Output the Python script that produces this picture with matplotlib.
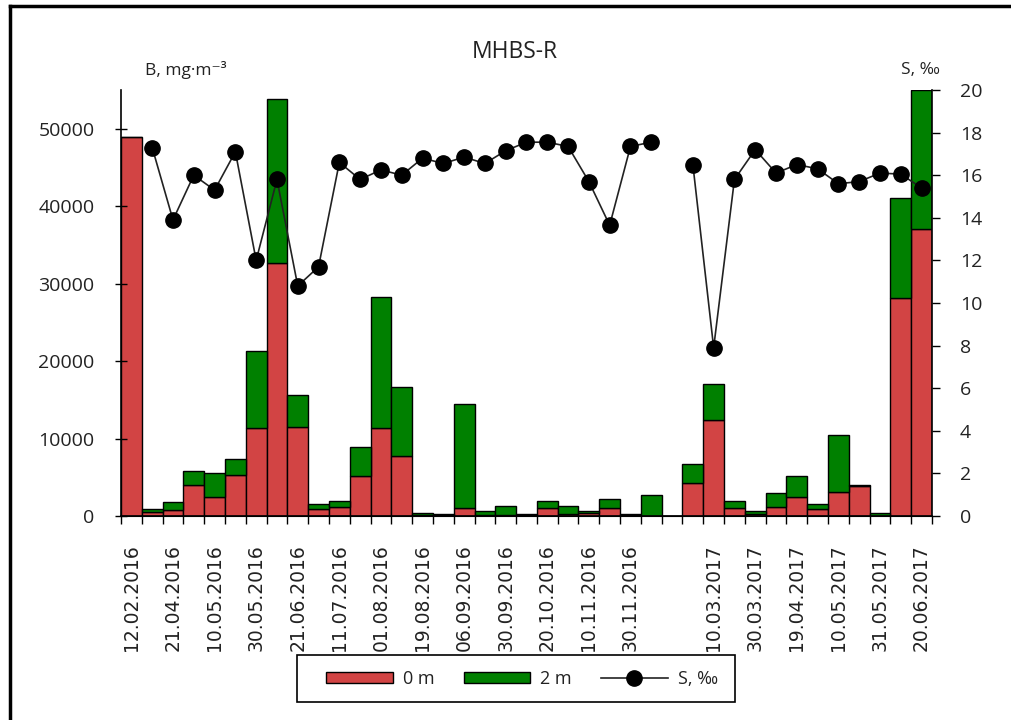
import numpy as np
import matplotlib
matplotlib.use("Agg")
from matplotlib import pyplot as plt
from matplotlib.lines import Line2D
from matplotlib.patches import Rectangle

# sampling dates (only every second slot is labelled; slot 26 is the winter gap)
dates = [
    "12.02.2016", "", "21.04.2016", "", "10.05.2016", "", "30.05.2016", "",
    "21.06.2016", "", "11.07.2016", "", "01.08.2016", "", "19.08.2016", "",
    "06.09.2016", "", "30.09.2016", "", "20.10.2016", "", "10.11.2016", "",
    "30.11.2016", "", "", "", "10.03.2017", "", "30.03.2017", "",
    "19.04.2017", "", "10.05.2017", "", "31.05.2017", "", "20.06.2017",
]

# biomass, mg/m3
b_0m = [
    48900, 500, 800, 4000, 2450, 5300, 11300, 32700, 11500, 850,
    1100, 5100, 11300, 7750, 150, 120, 1050, 150, 150, 150,
    1050, 300, 430, 1075, 120, 0, 0, 4200, 12400, 1050,
    300, 1100, 2450, 850, 3050, 3870, 0, 28200, 37100,
]
b_2m = [
    0, 350, 1000, 1800, 3050, 2050, 10050, 21100, 4100, 650,
    900, 3800, 17000, 8950, 200, 120, 13400, 500, 1200, 150,
    900, 1050, 260, 1150, 130, 2650, 0, 2450, 4700, 900,
    350, 1850, 2700, 700, 7400, 130, 450, 12900, 17900,
]

# salinity, per mille
salinity = [
    np.nan, 17.3, 13.9, 16.0, 15.3, 17.1, 12.0, 15.8, 10.8, 11.7,
    16.6, 15.8, 16.25, 16.0, 16.8, 16.55, 16.85, 16.55, 17.15, 17.55,
    17.55, 17.35, 15.7, 13.65, 17.35, 17.55, np.nan, 16.5, 7.9, 15.8,
    17.2, 16.1, 16.5, 16.3, 15.6, 15.7, 16.1, 16.05, 15.4,
]

RED = "#D24444"
GREEN = "#008000"
TXT = "#222222"
W, H = 1012, 720

plt.rcParams["font.family"] = ["Open Sans", "DejaVu Sans"]

fig = plt.figure(figsize=(W / 100, H / 100), dpi=100)
ax = fig.add_axes([121 / W, 1 - 516 / H, (932 - 121) / W, (516 - 90) / H])
ax2 = ax.twinx()

x = np.arange(len(dates))
ax.bar(x, b_0m, width=1.0, color=RED, edgecolor="black", linewidth=1.0, label="0 m")
ax.bar(x, b_2m, width=1.0, bottom=b_0m, color=GREEN, edgecolor="black",
       linewidth=1.0, label="2 m")
ax2.plot(x, salinity, color=TXT, linewidth=1.2, marker="o", markersize=11,
         markerfacecolor="black", markeredgecolor="black", label="S, ‰")

ax.set_xlim(-0.5, len(dates) - 0.5)
ax.set_ylim(0, 55000)
ax.set_yticks(np.arange(0, 50001, 10000))
ax2.set_ylim(0, 20)
ax2.set_yticks(np.arange(0, 21, 2))

ax.set_xticks(x)
ax.set_xticklabels(dates, rotation=90, family="DejaVu Sans", fontsize=13.5,
                   color=TXT)
ax.set_xticks(np.arange(-0.5, len(dates), 1.0), minor=True)
ax.tick_params(axis="x", which="major", length=0, pad=20)
ax.tick_params(axis="x", which="minor", length=6, width=1, direction="out")
ax.tick_params(axis="y", length=8, width=1, direction="inout", labelsize=14,
               pad=15, labelcolor=TXT)
ax2.tick_params(axis="y", length=6, width=1, direction="out", labelsize=14, pad=14,
                labelcolor=TXT)

for a in (ax, ax2):
    a.spines["top"].set_visible(False)
    a.set_facecolor("none")
ax.spines["right"].set_visible(False)
ax2.spines["left"].set_visible(False)
ax2.spines["right"].set_linewidth(1.2)
ax.spines["left"].set_linewidth(1.2)
ax.spines["bottom"].set_linewidth(1.2)

fig.text(515 / W, 1 - 52 / H, "MHBS-R", ha="center", va="center",
         fontsize=16.5, color=TXT)
fig.text(145 / W, 1 - 70 / H, "B, mg·m⁻³", ha="left", va="center",
         fontsize=12.5, color=TXT)
fig.text(940 / W, 1 - 70 / H, "S, ‰", ha="right", va="center",
         fontsize=12.5, color=TXT)

# legend: content without frame, box drawn separately (uneven padding in original)
h1, l1 = ax.get_legend_handles_labels()
h2, l2 = ax2.get_legend_handles_labels()
leg = fig.legend(h1 + h2, l1 + l2, loc="center",
                 bbox_to_anchor=(522 / W, 1 - 679 / H), ncol=3, fontsize=13,
                 frameon=False, handlelength=3.7, handleheight=0.6,
                 columnspacing=1.6, handletextpad=0.55, borderaxespad=0)
for t in leg.get_texts():
    t.set_color(TXT)
fig.add_artist(Rectangle((297 / W, 1 - 702 / H), (735 - 297) / W, 47 / H,
                         fill=False, edgecolor="black", linewidth=1.2,
                         transform=fig.transFigure))

# outer frame (left and top edges visible in the original)
fig.add_artist(Line2D([10 / W, 10 / W], [0, 1 - 6 / H], color="black",
                      linewidth=2.5, transform=fig.transFigure))
fig.add_artist(Line2D([10 / W, 1], [1 - 6 / H, 1 - 6 / H], color="black",
                      linewidth=2.5, transform=fig.transFigure))

fig.savefig("out.png", dpi=100)
